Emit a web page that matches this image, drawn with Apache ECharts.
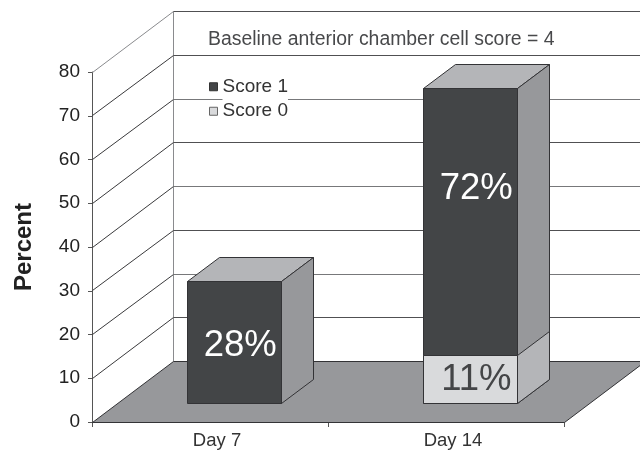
<!DOCTYPE html>
<html><head><meta charset="utf-8">
<style>html,body{margin:0;padding:0;background:#fff}#c{width:640px;height:451px}</style>
<script src="https://cdn.jsdelivr.net/npm/echarts@6/dist/echarts.min.js"></script>
</head><body><div id="c"></div>
<script>
var categories = ['Day 7', 'Day 14'];
var yTicks = [0, 10, 20, 30, 40, 50, 60, 70, 80];
var score1 = [28, 72];
var score0 = [null, 11];
var score1Labels = ['28%', '72%'];
var score0Labels = [null, '11%'];

var FONT = '"Liberation Sans", Arial, sans-serif';
var DEPTH_X = 81, DEPTH_Y = -60.5;
var BAR_FRONT = 0.3, BAR_BACK = 0.7, BAR_WIDTH = 0.4;
function px(v) { return Math.round(v - 0.5) + 0.5; }
function pt(p, d) { return [px(p[0] + d * DEPTH_X), px(p[1] + d * DEPTH_Y)]; }
var EDGE = { stroke: '#333336', lineWidth: 1 };
function poly(points, fill, stroke) {
  return { type: 'polygon', shape: { points: points }, style: { fill: fill, stroke: stroke || EDGE.stroke, lineWidth: 1 } };
}
function line(a, b, color) {
  return { type: 'line', shape: { x1: a[0], y1: a[1], x2: b[0], y2: b[1] }, style: { stroke: color, lineWidth: 1 } };
}

function renderWall(params, api) {
  var cs = params.coordSys;
  var v = api.value(1);
  var y = api.coord([0, v])[1];
  var left = [cs.x, y];
  var back = pt(left, 1);
  var ch = [];
  if (v === 0) {
    var top = pt([cs.x, cs.y], 1);
    ch.push(line(top, back, '#8a8b8e'));
    ch.push(poly([pt(left, 0), back, pt([cs.x + cs.width, y], 1), pt([cs.x + cs.width, y], 0)], '#97989b'));
    return { type: 'group', children: ch };
  }
  var isEven = v % 20 === 0 && v !== 80;
  ch.push(line(pt(left, 0), back, v === 80 ? '#8a8b8e' : '#3a3a3c'));
  ch.push(line(back, pt([cs.x + cs.width, y], 1), isEven ? '#77787a' : '#505052'));
  return { type: 'group', children: ch };
}

function box(i, val, api, front, side, topFace, text, textColor, labelFrac) {
  var c0 = api.coord([i, 0]);
  var c1 = api.coord([i, val]);
  var w = api.size([1, 0])[0] * BAR_WIDTH;
  var bl = [c0[0] - w / 2, c0[1]], br = [c0[0] + w / 2, c0[1]];
  var tl = [c1[0] - w / 2, c1[1]], tr = [c1[0] + w / 2, c1[1]];
  var ch = [];
  if (topFace) {
    ch.push(poly([pt(tl, BAR_FRONT), pt(tl, BAR_BACK), pt(tr, BAR_BACK), pt(tr, BAR_FRONT)], topFace));
  }
  ch.push(poly([pt(br, BAR_FRONT), pt(br, BAR_BACK), pt(tr, BAR_BACK), pt(tr, BAR_FRONT)], side));
  ch.push(poly([pt(bl, BAR_FRONT), pt(br, BAR_FRONT), pt(tr, BAR_FRONT), pt(tl, BAR_FRONT)], front));
  var mid = api.coord([i, val * labelFrac]);
  ch.push({
    type: 'text',
    style: {
      x: mid[0] + BAR_FRONT * DEPTH_X + 6, y: mid[1] + BAR_FRONT * DEPTH_Y,
      text: text, fill: textColor, font: '36.5px ' + FONT, align: 'center', verticalAlign: 'middle'
    }
  });
  return { type: 'group', children: ch };
}

function renderScore1(params, api) {
  var i = api.value(0), v = api.value(1);
  return box(i, v, api, '#434547', '#97989b', '#b4b5b8', score1Labels[i], '#ffffff', i === 1 ? 0.683 : 0.47);
}
function renderScore0(params, api) {
  var i = api.value(0), v = api.value(1);
  if (isNaN(v)) return null;
  return box(i, v, api, '#d9dadc', '#b4b5b8', null, score0Labels[i], '#444547', 0.49);
}

var chart = echarts.init(document.getElementById('c'), null, { renderer: 'canvas' });
chart.setOption({
  animation: false,
  backgroundColor: '#fff',
  title: {
    text: 'Baseline anterior chamber cell score = 4',
    left: 203, top: 25,
    textStyle: { fontFamily: FONT, fontSize: 19.4, fontWeight: 'normal', color: '#48494b' }
  },
  legend: {
    orient: 'vertical', left: 204, top: 69.5, itemGap: 0, itemWidth: 8, itemHeight: 8, selectedMode: false,
    icon: 'rect',
    textStyle: { fontFamily: FONT, fontSize: 19, color: '#333', lineHeight: 24.5, backgroundColor: '#fff' },
    data: [
      { name: 'Score 1', itemStyle: { color: '#434547', borderColor: '#333', borderWidth: 1 } },
      { name: 'Score 0', itemStyle: { color: '#d9dadc', borderColor: '#666', borderWidth: 1 } }
    ]
  },
  grid: { left: 92, top: 72, width: 472, height: 350, containLabel: false, outerBoundsMode: 'none' },
  xAxis: {
    type: 'category', data: categories,
    axisLine: { lineStyle: { color: '#333336', width: 1 } },
    axisTick: { show: true, length: 5, alignWithLabel: false, lineStyle: { color: '#555' } },
    axisLabel: { fontFamily: FONT, fontSize: 18.5, color: '#333', margin: 9, padding: [0, 0, 0, 14] }
  },
  yAxis: {
    type: 'value', min: 0, max: 80, interval: 10,
    name: 'Percent', nameLocation: 'middle', nameGap: 56, nameRotate: 90,
    nameTextStyle: { fontFamily: FONT, fontSize: 24, fontWeight: 'bold', color: '#222' },
    axisLine: { show: true, lineStyle: { color: '#555', width: 1 } },
    axisTick: { show: true, length: 4, lineStyle: { color: '#555' } },
    axisLabel: { fontFamily: FONT, fontSize: 19, color: '#222', margin: 12, padding: [3, 0, 0, 0] },
    splitLine: { show: false }
  },
  series: [
    { type: 'custom', name: 'Walls', z: 1, clip: false, silent: true, renderItem: renderWall,
      encode: { x: 0, y: 1 }, data: yTicks.map(function (t) { return [0, t]; }) },
    { type: 'custom', name: 'Score 1', z: 3, clip: false, silent: true, renderItem: renderScore1,
      itemStyle: { color: '#434547' }, encode: { x: 0, y: 1 },
      data: score1.map(function (v, i) { return [i, v]; }) },
    { type: 'custom', name: 'Score 0', z: 4, clip: false, silent: true, renderItem: renderScore0,
      itemStyle: { color: '#d9dadc' }, encode: { x: 0, y: 1 },
      data: score0.map(function (v, i) { return [i, v]; }) }
  ]
});
</script></body></html>
